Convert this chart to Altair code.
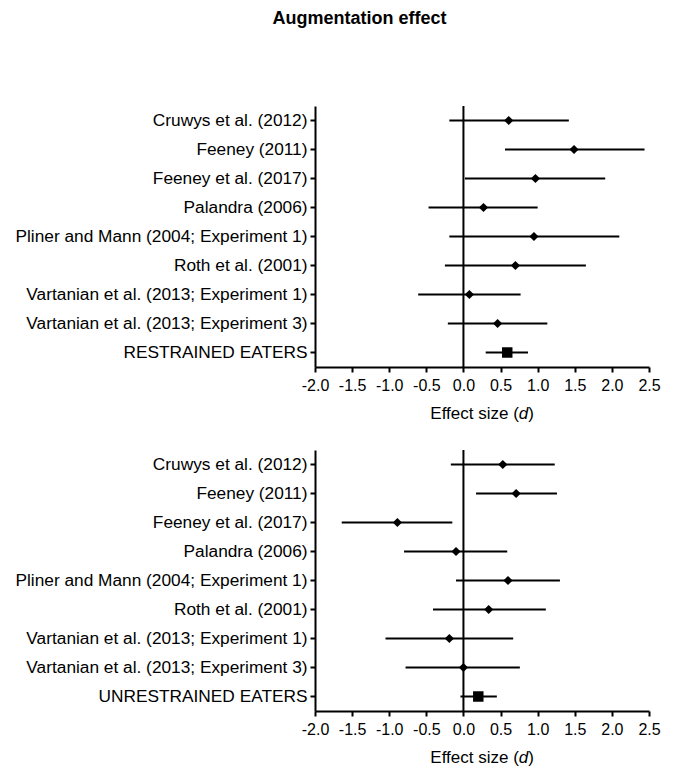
import altair as alt
import pandas as pd

# ---- data ----
studies = [
    "Cruwys et al. (2012)",
    "Feeney (2011)",
    "Feeney et al. (2017)",
    "Palandra (2006)",
    "Pliner and Mann (2004; Experiment 1)",
    "Roth et al. (2001)",
    "Vartanian et al. (2013; Experiment 1)",
    "Vartanian et al. (2013; Experiment 3)",
]

restrained_label = "RESTRAINED EATERS"
restrained_d = [0.61, 1.49, 0.97, 0.27, 0.95, 0.70, 0.08, 0.46]
restrained_lo = [-0.19, 0.56, 0.02, -0.47, -0.19, -0.25, -0.61, -0.21]
restrained_hi = [1.42, 2.44, 1.91, 1.00, 2.10, 1.65, 0.77, 1.13]
restrained_summary = [0.59, 0.30, 0.87]  # d, lo, hi

unrestrained_label = "UNRESTRAINED EATERS"
unrestrained_d = [0.53, 0.71, -0.89, -0.10, 0.60, 0.34, -0.19, 0.00]
unrestrained_lo = [-0.17, 0.17, -1.64, -0.80, -0.10, -0.41, -1.05, -0.78]
unrestrained_hi = [1.23, 1.26, -0.15, 0.59, 1.30, 1.11, 0.67, 0.76]
unrestrained_summary = [0.20, -0.04, 0.45]

x_ticks = [-2.0, -1.5, -1.0, -0.5, 0.0, 0.5, 1.0, 1.5, 2.0, 2.5]
chart_title = "Augmentation effect"
axis_title_parts = ["Effect size (", "d", ")"]

FONT = "Liberation Sans"
W, H = 334, 261
TITLE_FS = 17


def panel(summary_label, d, lo, hi, summary):
    order = studies + [summary_label]
    studies_df = pd.DataFrame({"label": studies, "d": d, "lo": lo, "hi": hi})
    summ_df = pd.DataFrame({"label": [summary_label], "d": [summary[0]],
                            "lo": [summary[1]], "hi": [summary[2]]})
    all_df = pd.concat([studies_df, summ_df], ignore_index=True)

    xscale = alt.Scale(domain=[x_ticks[0], x_ticks[-1]], nice=False, zero=False)
    xaxis = alt.Axis(values=x_ticks,
                     labelExpr="(datum.value < 0 ? '-' : '') + format(abs(datum.value), '.1f')",
                     labelFontSize=16, labelPadding=5, tickSize=5,
                     labelOverlap=False, labelFlush=False)
    yaxis = alt.Axis(labelFontSize=17.3, labelLimit=400, labelPadding=3, tickSize=5)
    y = alt.Y("label:N", sort=order, title=None, axis=yaxis)

    def xenc(field):
        return alt.X(field, scale=xscale, axis=xaxis, title=None)

    zero = alt.Chart(pd.DataFrame({"z": [0.0]})).mark_rule(
        color="black", strokeWidth=2).encode(x=xenc("z:Q"))
    ci = alt.Chart(all_df).mark_rule(color="black", strokeWidth=2).encode(
        x=xenc("lo:Q"), x2="hi:Q", y=y)
    pts = alt.Chart(studies_df).mark_point(
        shape="diamond", filled=True, color="black", size=85, opacity=1).encode(
        x=xenc("d:Q"), y=y)
    sq = alt.Chart(summ_df).mark_point(
        shape="square", filled=True, color="black", size=110, opacity=1).encode(
        x=xenc("d:Q"), y=y)

    # axis title with italic "d"
    w1 = 5.224 * TITLE_FS
    w2 = 0.556 * TITLE_FS
    w3 = 0.333 * TITLE_FS
    start = W / 2 - (w1 + w2 + w3) / 2
    ty = H + 47
    t_df = pd.DataFrame({"t": [0]})
    t1 = alt.Chart(t_df).mark_text(text=axis_title_parts[0], align="right", baseline="middle",
                                   font=FONT, fontSize=TITLE_FS, color="black").encode(
        x=alt.value(start + w1), y=alt.value(ty))
    t2 = alt.Chart(t_df).mark_text(text=axis_title_parts[1], align="left", baseline="middle",
                                   font=FONT, fontSize=TITLE_FS, fontStyle="italic",
                                   color="black").encode(
        x=alt.value(start + w1), y=alt.value(ty))
    t3 = alt.Chart(t_df).mark_text(text=axis_title_parts[2], align="left", baseline="middle",
                                   font=FONT, fontSize=TITLE_FS, color="black").encode(
        x=alt.value(start + w1 + w2), y=alt.value(ty))

    return alt.layer(zero, ci, pts, sq, t1, t2, t3).properties(width=W, height=H)


top = panel(restrained_label, restrained_d, restrained_lo, restrained_hi, restrained_summary)
bottom = panel(unrestrained_label, unrestrained_d, unrestrained_lo, unrestrained_hi,
               unrestrained_summary)

chart = alt.vconcat(top, bottom, spacing=27).properties(
    title=alt.TitleParams(chart_title, font=FONT, fontSize=18, fontWeight="bold",
                          color="black", anchor="middle", offset=77, dx=22),
    padding={"left": 6, "top": 2, "right": 0, "bottom": 0},
).configure_view(stroke=None).configure_axis(
    grid=False, domainColor="black", domainWidth=2, tickColor="black", tickWidth=2,
    labelColor="black", labelFont=FONT,
).configure_text(font=FONT)

chart.save("out.html", embed_options={"renderer": "svg", "actions": False})
